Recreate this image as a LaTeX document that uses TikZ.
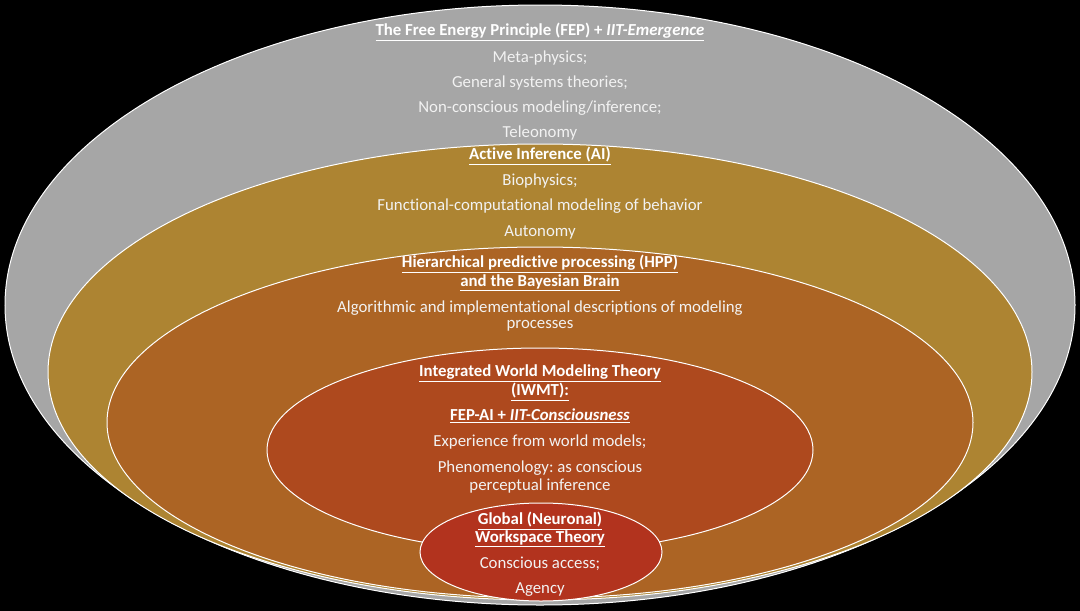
\documentclass[tikz,border=0pt]{standalone}
\usepackage{fontspec}
\setmainfont{Carlito}[Ligatures={NoCommon}]
\frenchspacing
\definecolor{cgray}{RGB}{166,166,166}
\definecolor{cgold}{RGB}{173,132,50}
\definecolor{chpp}{RGB}{172,100,36}
\definecolor{ciwmt}{RGB}{174,73,30}
\definecolor{cgnwt}{RGB}{178,51,30}
\definecolor{ctxt}{RGB}{242,242,242}
\tikzset{
  ring/.style={draw=white, line width=1pt},
  lbl/.style={text=ctxt, font=\fontsize{16.8}{19}\selectfont, inner sep=0pt, anchor=center, align=center},
  ttl/.style={lbl, text=white, font=\fontsize{16.8}{19}\selectfont\bfseries}
}
\newcommand{\ul}[1]{\underline{#1}}
\begin{document}
\begin{tikzpicture}[x=1pt,y=-1pt]
\useasboundingbox (0,0) rectangle (1080,611);
\fill[black] (0,0) rectangle (1080,611);
% ellipses
\filldraw[ring, fill=cgray] (540,305) ellipse [x radius=535pt, y radius=300pt];
\filldraw[ring, fill=cgold] (540,372) ellipse [x radius=492pt, y radius=228pt];
\filldraw[ring, fill=chpp] (540,422.5) ellipse [x radius=433pt, y radius=175.5pt];
\filldraw[ring, fill=ciwmt] (540,450) ellipse [x radius=273pt, y radius=102pt];
\filldraw[ring, fill=cgnwt] (541,552) ellipse [x radius=121pt, y radius=49pt];
% FEP
\node[ttl] (fep) at (540,32) {\ul{The Free Energy Principle (FEP) + \textit{IIT-Emergence}}};
\node[lbl] (fep1) at (540,58) {Meta-physics;};
\node[lbl] (fep2) at (540,83) {General systems theories;};
\node[lbl] (fep3) at (540,108) {Non-conscious modeling/inference;};
\node[lbl] (fep4) at (540,133) {Teleonomy};
% AI
\node[ttl] (ai) at (540,156) {\ul{Active Inference (AI)}};
\node[lbl] (ai1) at (540,181) {Biophysics;};
\node[lbl] (ai2) at (540,206) {Functional-computational modeling of behavior};
\node[lbl] (ai3) at (540,232) {Autonomy};
% HPP
\node[ttl] (hpp) at (540,264) {\ul{Hierarchical predictive processing (HPP)}};
\node[ttl] (hppb) at (540,283) {\ul{and the Bayesian Brain}};
\node[lbl] (hpp1) at (540,308) {Algorithmic and implementational descriptions of modeling};
\node[lbl] (hpp2) at (540,326) {processes};
% IWMT
\node[ttl] (iw) at (540,373) {\ul{Integrated World Modeling Theory}};
\node[ttl] (iwb) at (540,392) {\ul{(IWMT):}};
\node[ttl] (iwc) at (540,416) {\ul{FEP-AI + \textit{IIT-Consciousness}}};
\node[lbl] (iw1) at (540,442) {Experience from world models;};
\node[lbl] (iw2) at (540,468) {Phenomenology: as conscious};
\node[lbl] (iw3) at (540,486) {perceptual inference};
% GNWT
\node[ttl] (gn) at (540,521) {\ul{Global (Neuronal)}};
\node[ttl] (gnb) at (540,539) {\ul{Workspace Theory}};
\node[lbl] (gn1) at (540,564) {Conscious access;};
\node[lbl] (gn2) at (540,590) {Agency};
\end{tikzpicture}
\end{document}
